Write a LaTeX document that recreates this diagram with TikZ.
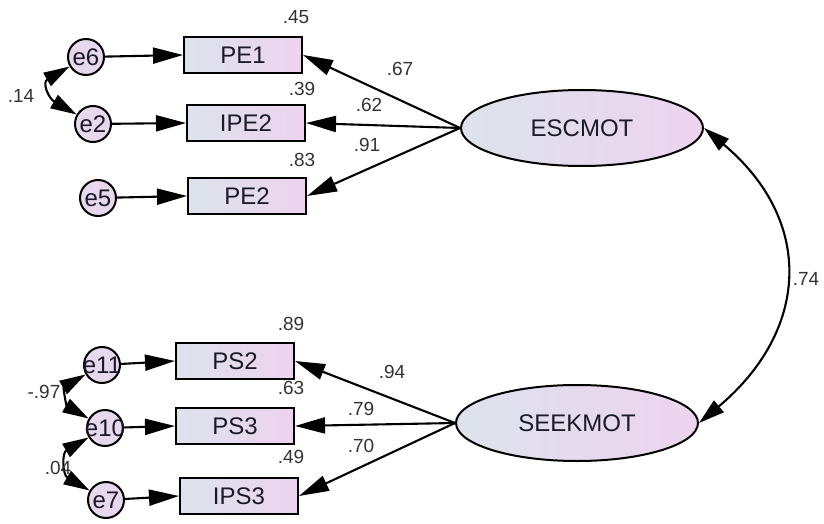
\documentclass[tikz,border=0pt]{standalone}
\usepackage{fontspec}
\setmainfont{Liberation Sans}
\usetikzlibrary{arrows.meta,shapes.geometric,shadings}
\definecolor{fillL}{HTML}{DCE3EC}
\definecolor{fillR}{HTML}{EDD3EE}
\definecolor{circfill}{HTML}{E8D8EE}
\definecolor{txt}{HTML}{1A1A28}
\definecolor{numc}{HTML}{333333}
\begin{document}
\begin{tikzpicture}[x=1pt,y=1pt,
 obs/.style={draw=black, line width=2pt, left color=fillL, right color=fillR, minimum width=118pt, minimum height=36pt, inner sep=0pt, font=\fontsize{24}{28}\selectfont, text=txt},
 lat/.style={ellipse, draw=black, line width=2pt, left color=fillL, right color=fillR, minimum width=242pt, minimum height=76pt, inner sep=0pt, font=\fontsize{24}{28}\selectfont, text=txt},
 err/.style={circle, draw=black, line width=2pt, fill=circfill, minimum size=36pt, inner sep=0pt, font=\fontsize{24}{26}\selectfont, text=txt},
 lbl/.style={font=\fontsize{19}{22}\selectfont, text=numc, inner sep=0pt},
 arr/.style={line width=2.1pt, -{Triangle[length=30pt,width=16pt]}},
 cov/.style={line width=2.1pt, {Triangle[length=26pt,width=15pt]}-{Triangle[length=26pt,width=15pt]}},
]
\useasboundingbox (0,0) rectangle (824,523);
% top group
\node[err] (e6) at (86,466) {\makebox[0pt]{e6}};
\node[err] (e2) at (93,399) {\makebox[0pt]{e2}};
\node[err] (e5) at (98,325) {\makebox[0pt]{e5}};
\node[obs] (PE1) at (243,468) {PE1};
\node[obs] (IPE2) at (246,400) {IPE2};
\node[obs] (PE2) at (247,327) {PE2};
\node[lat] (ESC) at (582,395) {ESCMOT};
% bottom group
\node[err] (e11) at (102,158) {\makebox[0pt]{e11}};
\node[err] (e10) at (105,95) {\makebox[0pt]{e10}};
\node[err] (e7) at (106,23) {\makebox[0pt]{e7}};
\node[obs] (PS2) at (235,162) {PS2};
\node[obs] (PS3) at (235,97) {PS3};
\node[obs] (IPS3) at (239,27) {IPS3};
\node[lat] (SEEK) at (577,100) {SEEKMOT};
% paths
\draw[arr] (e6) -- (PE1.west);
\draw[arr] (e2) -- (IPE2.west);
\draw[arr] (e5) -- (PE2.west);
\draw[arr] (ESC.west) -- (PE1.east);
\draw[arr] (ESC.west) -- (IPE2.east);
\draw[arr] (ESC.west) -- (PE2.east);
\draw[arr] (e11) -- (PS2.west);
\draw[arr] (e10) -- (PS3.west);
\draw[arr] (e7) -- (IPS3.west);
\draw[arr] (SEEK.west) -- (PS2.east);
\draw[arr] (SEEK.west) -- (PS3.east);
\draw[arr] (SEEK.west) -- (IPS3.east);
% covariances
\draw[cov] (e6.210) to[out=210,in=150,looseness=1.7] (e2.150);
\draw[cov] (e11.210) to[out=210,in=150,looseness=1.5] (e10.150);
\draw[cov] (e10.210) to[out=210,in=150,looseness=1.5] (e7.150);
\draw[cov] (ESC.east) to[out=-40,in=40,looseness=1.25] (SEEK.east);
% labels
\node[lbl] (l45) at (296,506) {.45};
\node[lbl] (l39) at (302,434) {.39};
\node[lbl] (l83) at (302,363) {.83};
\node[lbl] (l67) at (400,454) {.67};
\node[lbl] (l62) at (369,418) {.62};
\node[lbl] (l91) at (367,378) {.91};
\node[lbl] (l89) at (291,199) {.89};
\node[lbl] (l63) at (291,135) {.63};
\node[lbl] (l49) at (291,66) {.49};
\node[lbl] (l94) at (392,151) {.94};
\node[lbl] (l79) at (361,114) {.79};
\node[lbl] (l70) at (361,77) {.70};
\node[lbl] (l74) at (806,244) {.74};
\node[lbl] (l14) at (21,427) {.14};
\node[lbl] (l97) at (44,131) {-.97};
\node[lbl] (l04) at (58,55) {.04};
\end{tikzpicture}
\end{document}
